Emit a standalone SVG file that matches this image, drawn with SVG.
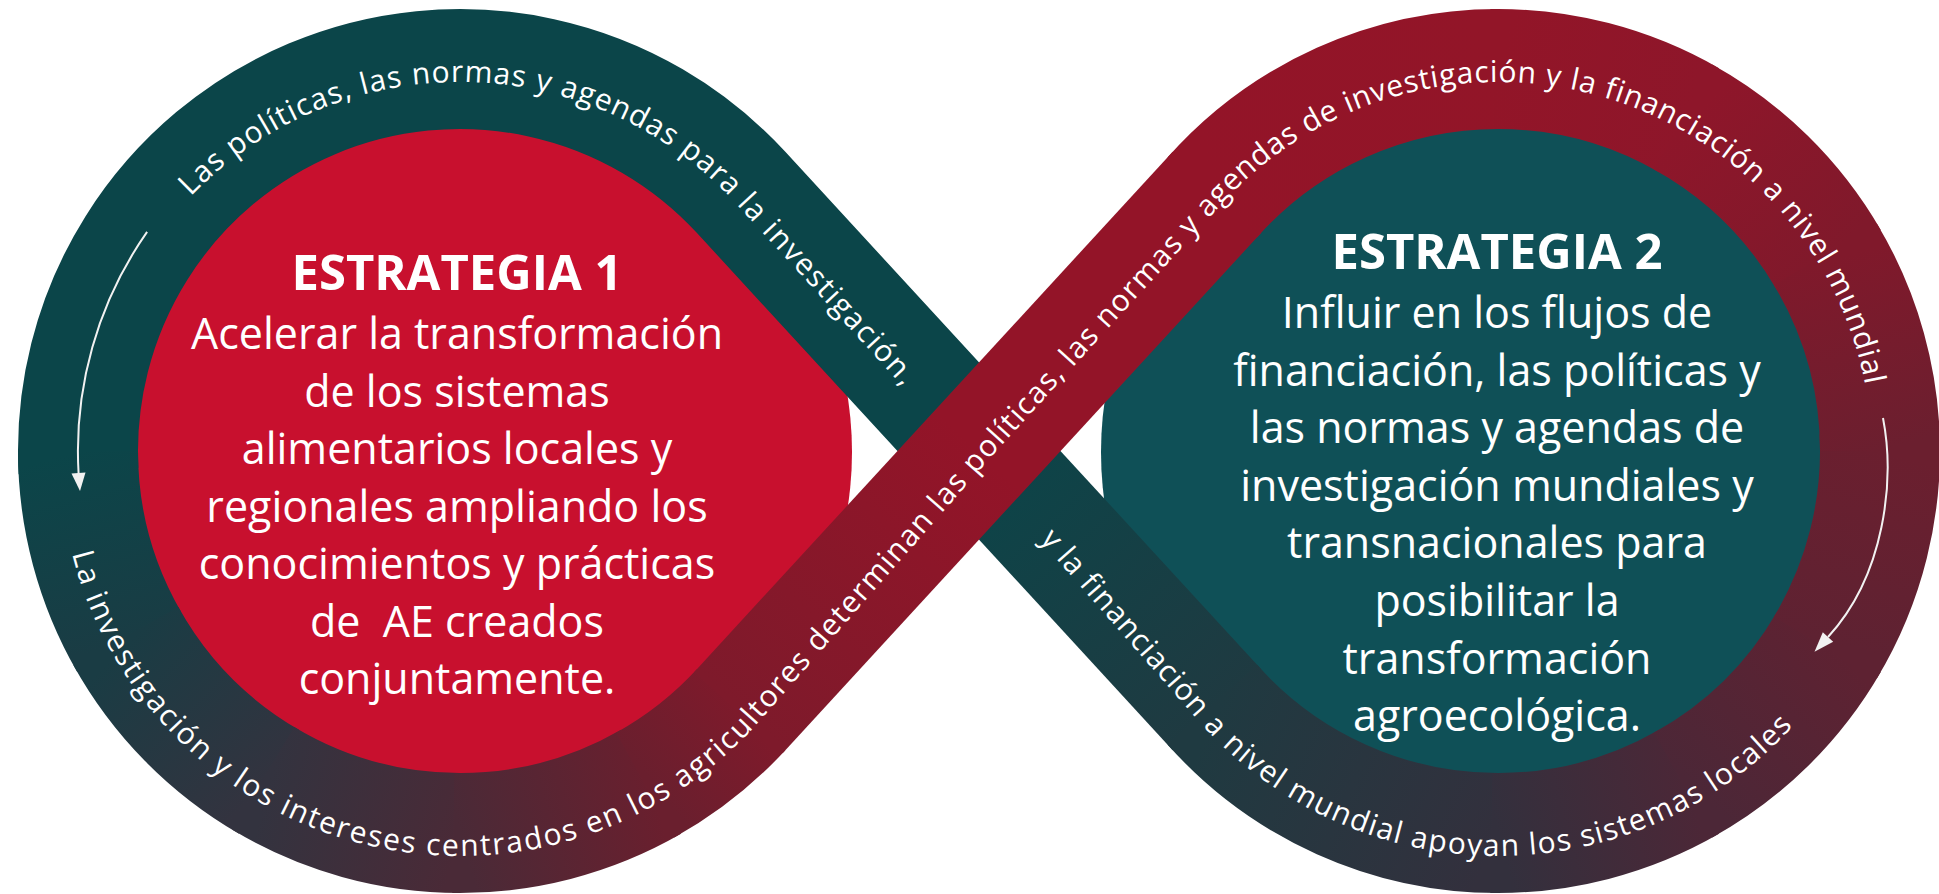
<svg xmlns="http://www.w3.org/2000/svg" width="1939" height="894" viewBox="0 0 1939 894">
<style>
.band{fill:none;stroke-width:120;stroke-linecap:butt}
.bt{font-family:"Open Sans","Noto Sans",sans-serif;font-size:30px;fill:#ffffff;letter-spacing:1.1px}
.title{font-family:"Open Sans","Noto Sans",sans-serif;font-weight:700;font-size:49px;fill:#ffffff;text-anchor:middle}
.body{font-family:"Open Sans","Noto Sans",sans-serif;font-size:43px;fill:#ffffff;text-anchor:middle}
.arrow{fill:none;stroke:#f2f2f2;stroke-width:2}
.head{fill:#f2f2f2}
</style>
<defs>
<linearGradient id="gL1" gradientUnits="userSpaceOnUse" x1="78" y1="451" x2="129.18" y2="642"><stop offset="0" stop-color="#0b4549"/><stop offset="1" stop-color="#1a3c44"/></linearGradient>
<linearGradient id="gL2" gradientUnits="userSpaceOnUse" x1="129.18" y1="642" x2="269" y2="781.82"><stop offset="0" stop-color="#1a3c44"/><stop offset="1" stop-color="#33333f"/></linearGradient>
<linearGradient id="gL3" gradientUnits="userSpaceOnUse" x1="269" y1="781.82" x2="460" y2="833"><stop offset="0" stop-color="#33333f"/><stop offset="1" stop-color="#4a2a37"/></linearGradient>
<linearGradient id="gL4" gradientUnits="userSpaceOnUse" x1="460" y1="833" x2="651" y2="781.82"><stop offset="0" stop-color="#4a2a37"/><stop offset="1" stop-color="#6a1f2e"/></linearGradient>
<linearGradient id="gL5" gradientUnits="userSpaceOnUse" x1="651" y1="781.82" x2="741.16" y2="709.58"><stop offset="0" stop-color="#6a1f2e"/><stop offset="1" stop-color="#7e1a2b"/></linearGradient>
<linearGradient id="gX" gradientUnits="userSpaceOnUse" x1="741.16" y1="709.58" x2="979" y2="451"><stop offset="0" stop-color="#7e1a2b"/><stop offset="1" stop-color="#931428"/></linearGradient>
<linearGradient id="gR1" gradientUnits="userSpaceOnUse" x1="1216.84" y1="192.42" x2="1498" y2="69"><stop offset="0" stop-color="#931428"/><stop offset="1" stop-color="#921528"/></linearGradient>
<linearGradient id="gR2" gradientUnits="userSpaceOnUse" x1="1498" y1="69" x2="1689" y2="120.18"><stop offset="0" stop-color="#921528"/><stop offset="1" stop-color="#8e162a"/></linearGradient>
<linearGradient id="gR3" gradientUnits="userSpaceOnUse" x1="1689" y1="120.18" x2="1828.82" y2="260"><stop offset="0" stop-color="#8e162a"/><stop offset="1" stop-color="#80192b"/></linearGradient>
<linearGradient id="gR4" gradientUnits="userSpaceOnUse" x1="1828.82" y1="260" x2="1880" y2="451"><stop offset="0" stop-color="#80192b"/><stop offset="1" stop-color="#6b1f2f"/></linearGradient>
<linearGradient id="gT0" gradientUnits="userSpaceOnUse" x1="979" y1="451" x2="1216.84" y2="709.58"><stop offset="0" stop-color="#0b4549"/><stop offset="1" stop-color="#1f3a41"/></linearGradient>
<linearGradient id="gT1" gradientUnits="userSpaceOnUse" x1="1216.84" y1="709.58" x2="1498" y2="833"><stop offset="0" stop-color="#1f3a41"/><stop offset="1" stop-color="#33303d"/></linearGradient>
<linearGradient id="gT2" gradientUnits="userSpaceOnUse" x1="1498" y1="833" x2="1689" y2="781.82"><stop offset="0" stop-color="#33303d"/><stop offset="1" stop-color="#4c2737"/></linearGradient>
<linearGradient id="gT3" gradientUnits="userSpaceOnUse" x1="1689" y1="781.82" x2="1828.82" y2="642"><stop offset="0" stop-color="#4c2737"/><stop offset="1" stop-color="#5e2232"/></linearGradient>
<linearGradient id="gT4" gradientUnits="userSpaceOnUse" x1="1828.82" y1="642" x2="1880" y2="451"><stop offset="0" stop-color="#5e2232"/><stop offset="1" stop-color="#6b1f2f"/></linearGradient>
<path id="pA" d="M 73 456 A 387 387 0 0 1 746.1 195.4 L 979 451 L 1207 711.1 A 387 387 0 0 0 1885 456"/>
<path id="pB" d="M 73 456 A 387 387 0 0 0 751 711.1 L 979 451 L 1211.9 195.4 A 387 387 0 0 1 1885 456"/>
</defs>

<g id="strategy1">
<circle cx="494" cy="452" r="358" fill="#c8102e"/>
<text class="title" x="457" y="290">ESTRATEGIA 1</text>
<text class="body" x="457" y="349">Acelerar la transformación</text>
<text class="body" x="457" y="406.5">de los sistemas</text>
<text class="body" x="457" y="464">alimentarios locales y</text>
<text class="body" x="457" y="521.5">regionales ampliando los</text>
<text class="body" x="457" y="579">conocimientos y prácticas</text>
<text class="body" x="457" y="636.5" xml:space="preserve" style="white-space:pre">de  AE creados</text>
<text class="body" x="457" y="694">conjuntamente.</text>
</g>

<g id="strategy2">
<circle cx="1461" cy="452" r="360" fill="#0f5057"/>
<text class="title" x="1497" y="269">ESTRATEGIA 2</text>
<text class="body" x="1497" y="328">Influir en los flujos de</text>
<text class="body" x="1497" y="385.6">financiación, las políticas y</text>
<text class="body" x="1497" y="443.2">las normas y agendas de</text>
<text class="body" x="1497" y="500.8">investigación mundiales y</text>
<text class="body" x="1497" y="558.4">transnacionales para</text>
<text class="body" x="1497" y="616">posibilitar la</text>
<text class="body" x="1497" y="673.6">transformación</text>
<text class="body" x="1497" y="731.2">agroecológica.</text>
</g>

<g id="band-under">
<path class="band" stroke="#0b4549" d="M 78.52 470.99 A 382 382 0 0 1 741.16 192.42 L 986 458.6"/>
<path class="band" stroke="url(#gT0)" d="M 979 451 L 1216.84 709.58"/>
<path class="band" stroke="url(#gT1)" d="M 1212.34 704.61 A 382 382 0 0 0 1498 833"/>
<path class="band" stroke="url(#gT2)" d="M 1491.33 832.94 A 382 382 0 0 0 1689 781.82"/>
<path class="band" stroke="url(#gT3)" d="M 1683.2 785.1 A 382 382 0 0 0 1828.82 642"/>
<path class="band" stroke="url(#gT4)" d="M 1825.4 647.7 A 382 382 0 0 0 1879.48 431.01"/>
<text class="bt" style="letter-spacing:1.6px"><textPath href="#pA" startOffset="297"><tspan dy="13">Las políticas, las normas y agendas para la investigación,</tspan></textPath></text>
<text class="bt" style="letter-spacing:0.9px"><textPath href="#pA" startOffset="1382"><tspan dy="13">y la financiación a nivel mundial apoyan los sistemas locales</tspan></textPath></text>
</g>

<g id="band-over">
<path class="band" stroke="url(#gL1)" d="M 78 451 A 382 382 0 0 0 129.18 642"/>
<path class="band" stroke="url(#gL2)" d="M 125.9 636.2 A 382 382 0 0 0 269 781.82"/>
<path class="band" stroke="url(#gL3)" d="M 263.3 778.4 A 382 382 0 0 0 460 833"/>
<path class="band" stroke="url(#gL4)" d="M 453.33 832.94 A 382 382 0 0 0 651 781.82"/>
<path class="band" stroke="url(#gL5)" d="M 645.2 785.1 A 382 382 0 0 0 741.16 709.58"/>
<path class="band" stroke="url(#gX)" d="M 738.45 712.52 L 1216.84 192.42"/>
<path class="band" stroke="url(#gR1)" d="M 1212.34 197.39 A 382 382 0 0 1 1498 69"/>
<path class="band" stroke="url(#gR2)" d="M 1491.33 69.06 A 382 382 0 0 1 1689 120.18"/>
<path class="band" stroke="url(#gR3)" d="M 1683.2 116.9 A 382 382 0 0 1 1828.82 260"/>
<path class="band" stroke="url(#gR4)" d="M 1825.4 254.3 A 382 382 0 0 1 1880 451"/>
<text class="bt" style="letter-spacing:1.3px"><textPath href="#pB" startOffset="95"><tspan dy="13">La investigación y los intereses centrados en los agricultores determinan las políticas, las normas y agendas de investigación y la financiación a nivel mundial</tspan></textPath></text>
</g>

<g id="connectors">
<path class="arrow" d="M 147.1 231.9 A 382 382 0 0 0 78.6 474"/>
<polygon class="head" points="80,491 85.5,472.4 71.5,473.6"/>
<path class="arrow" d="M 1883 418 C 1895 480 1885 575 1828 637"/>
<polygon class="head" points="1814.5,651.7 1833.2,641.7 1822.8,632.3"/>
</g>
</svg>
